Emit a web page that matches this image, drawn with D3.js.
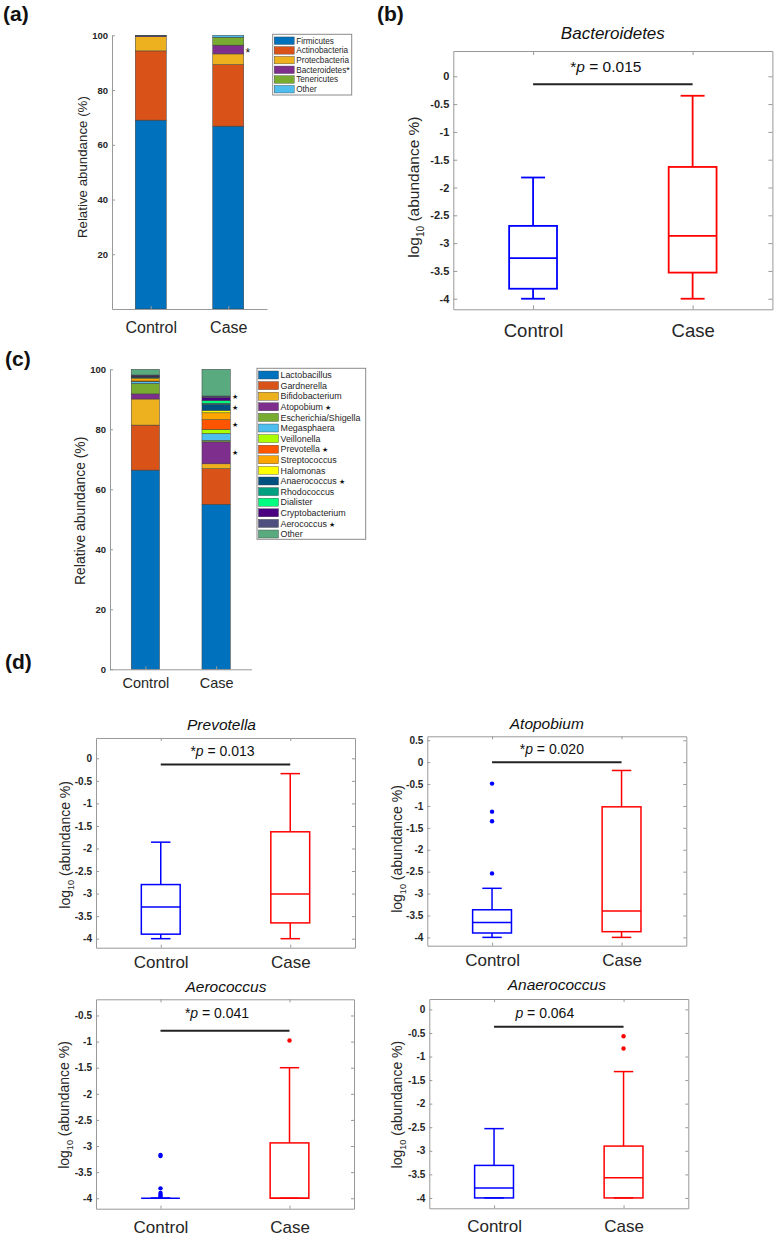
<!DOCTYPE html>
<html>
<head>
<meta charset="utf-8">
<script src="https://cdn.jsdelivr.net/npm/d3@7"></script>
<style>
  body { margin: 0; background: #fff; }
  text { font-family: "Liberation Sans", Arial, Helvetica, sans-serif; }
</style>
</head>
<body>
<svg id="fig" width="774" height="1242"></svg>
<script>
// ---- data ----
const groups = ["Control", "Case"];

const phyla = ["Firmicutes", "Actinobacteria", "Protecbacteria", "Bacteroidetes", "Tenericutes", "Other"];
const phylaControl = [69.0, 25.3, 5.2, 0.3, 0.1, 0.1];
const phylaCase = [66.8, 22.5, 3.9, 3.2, 2.9, 0.7];
const phylaStarred = ["Bacteroidetes"];
const phylaTicks = [20, 40, 60, 80, 100];

const genera = ["Lactobacillus", "Gardnerella", "Bifidobacterium", "Atopobium", "Escherichia/Shigella",
  "Megasphaera", "Veillonella", "Prevotella", "Streptococcus", "Halomonas", "Anaerococcus",
  "Rhodococcus", "Dialister", "Cryptobacterium", "Aerococcus", "Other"];
const generaControl = [66.4, 15.0, 8.7, 1.7, 3.5, 0.6, 0.1, 0.1, 0.8, 0.2, 0.3, 0.1, 0.1, 0.4, 0.1, 1.9];
const generaCase = [55.0, 11.9, 1.6, 7.3, 0.5, 2.3, 1.4, 3.2, 2.3, 0.8, 2.0, 0.4, 0.9, 1.0, 0.5, 8.9];
const generaStarred = ["Atopobium", "Prevotella", "Anaerococcus", "Aerococcus"];
const generaTicks = [0, 20, 40, 60, 80, 100];

// box stats: [lower whisker, q1, median, q3, upper whisker]
const bacteroidetesControl = [-4.0, -3.82, -3.27, -2.69, -1.82];
const bacteroidetesCase = [-4.0, -3.53, -2.87, -1.63, -0.35];
const prevotellaControl = [-4.0, -3.90, -3.30, -2.80, -1.86];
const prevotellaCase = [-4.0, -3.65, -3.01, -1.63, -0.34];
const atopobiumControl = [-4.0, -3.90, -3.66, -3.37, -2.88];
const atopobiumControlOut = [-0.49, -1.13, -1.35, -2.54];
const atopobiumCase = [-4.0, -3.87, -3.40, -1.02, -0.19];
const aerococcusControl = [-4.0, -4.0, -4.0, -4.0, -4.0];
const aerococcusControlOut = [-3.17, -3.19, -3.81, -3.90, -3.93, -3.96];
const aerococcusCase = [-4.0, -4.0, -4.0, -2.94, -1.50];
const aerococcusCaseOut = [-0.98];
const anaerococcusControl = [-4.0, -4.0, -3.79, -3.31, -2.53];
const anaerococcusCase = [-4.0, -4.0, -3.57, -2.90, -1.32];
const anaerococcusCaseOut = [-0.57, -0.83];

const logTicksFrom0 = [0, -0.5, -1, -1.5, -2, -2.5, -3, -3.5, -4];
const logTicksFrom05 = [0.5, 0, -0.5, -1, -1.5, -2, -2.5, -3, -3.5, -4];
const logTicksFromM05 = [-0.5, -1, -1.5, -2, -2.5, -3, -3.5, -4];

// ---- styles ----
const phylaColors = ["#0072bd", "#d95319", "#edb120", "#7e2f8e", "#77ac30", "#4dbeee"];
const generaColors = ["#0072bd", "#d95319", "#edb120", "#7e2f8e", "#77ac30", "#4dbeee", "#aaff00",
  "#ff5500", "#ffa500", "#ffff00", "#005080", "#00a080", "#00ff80", "#4b0082", "#4f4f7f", "#5aaa80"];
const boxColors = ["#0000ff", "#ff0000"];
const AXIS = "#999999";
const INK = "#262626";

const svg = d3.select("#fig");
svg.append("rect").attr("width", 774).attr("height", 1242).attr("fill", "#fff");

const fmt = d => String(d);

function styleAxis(sel, fs, bold) {
  sel.attr("font-family", null).attr("font-size", fs);
  sel.select(".domain").attr("stroke", AXIS);
  sel.selectAll(".tick line").attr("stroke", AXIS);
  sel.selectAll(".tick text").attr("fill", INK).attr("font-weight", bold ? "bold" : "normal");
}

function panelLabel(txt, x, y) {
  svg.append("text").attr("x", x).attr("y", y).attr("font-size", 21)
    .attr("font-weight", "bold").attr("fill", "#111").text(txt);
}

function stackedPanel(cfg) {
  const g = svg.append("g");
  const x = d3.scaleLinear().domain([0.5, 2.5]).range([cfg.left, cfg.right]);
  const y = d3.scaleLinear().domain([0, 100]).range([cfg.bottom, cfg.top]);
  const bw = x(1.4) - x(1);

  cfg.series.forEach((vals, gi) => {
    const ends = d3.cumsum(vals);
    const segs = vals.map((v, i) => ({ i, y0: ends[i] - v, y1: ends[i] }));
    g.append("g").selectAll("rect").data(segs).join("rect")
      .attr("x", x(gi + 1) - bw / 2).attr("width", bw)
      .attr("y", d => y(d.y1)).attr("height", d => y(d.y0) - y(d.y1))
      .attr("fill", d => cfg.colors[d.i])
      .attr("stroke", "#3c3c3c").attr("stroke-width", 0.5);
    if (gi === 1) {
      const marked = segs.filter(d => cfg.starred.includes(cfg.names[d.i]));
      g.append("g").selectAll("text").data(marked).join("text")
        .attr("x", x(2) + bw / 2 + cfg.starDx)
        .attr("y", d => y((d.y0 + d.y1) / 2) + cfg.starDy)
        .attr("text-anchor", "middle")
        .attr("font-size", cfg.starFs)
        .attr("fill", "#111")
        .text(cfg.starGlyph);
    }
  });

  const ya = g.append("g").attr("transform", `translate(${cfg.left},0)`)
    .call(d3.axisLeft(y).tickValues(cfg.ticks).tickSizeInner(-3).tickSizeOuter(0)
      .tickPadding(4).tickFormat(fmt));
  styleAxis(ya, cfg.tickFs, true);

  const xa = g.append("g").attr("transform", `translate(0,${cfg.bottom})`)
    .call(d3.axisBottom(x).tickValues([1, 2]).tickSizeInner(-3).tickSizeOuter(0)
      .tickPadding(cfg.catGap - 0.71 * cfg.catFs).tickFormat((d, i) => groups[i]));
  styleAxis(xa, cfg.catFs, false);

  g.append("text")
    .attr("transform", `translate(${cfg.ylabX + 0.35 * cfg.ylabFs},${(cfg.top + cfg.bottom) / 2 + cfg.ylabDy}) rotate(-90)`)
    .attr("text-anchor", "middle").attr("font-size", cfg.ylabFs).attr("fill", INK)
    .text("Relative abundance (%)");

  // legend
  const lg = g.append("g");
  const L = cfg.legend;
  lg.append("rect").attr("x", L.x).attr("y", L.y).attr("width", L.w).attr("height", L.h)
    .attr("fill", "#fff").attr("stroke", "#8a8a8a").attr("stroke-width", 1);
  const rows = lg.selectAll("g").data(cfg.names).join("g")
    .attr("transform", (d, i) => `translate(${L.x + 1.5},${L.y0 + i * L.step})`);
  rows.append("rect").attr("x", 0).attr("y", -L.sw / 2).attr("width", 20).attr("height", L.sw)
    .attr("fill", (d, i) => cfg.colors[i]).attr("stroke", "#3c3c3c").attr("stroke-width", 0.4);
  const labels = rows.append("text").attr("x", 22).attr("y", 0).attr("dy", "0.35em")
    .attr("font-size", L.fs).attr("fill", INK).text(d => d);
  labels.filter(d => cfg.starred.includes(d)).append("tspan")
    .attr("font-size", L.starFs).attr("fill", "#111").text(L.starText);
  return g;
}

function boxPanel(cfg) {
  const g = svg.append("g");
  const x = d3.scaleLinear().domain([0.5, 2.5]).range([cfg.left, cfg.right]);
  const y = d3.scaleLinear().domain(cfg.domain).range([cfg.bottom, cfg.top]);

  const yl = g.append("g").attr("transform", `translate(${cfg.left},0)`)
    .call(d3.axisLeft(y).tickValues(cfg.ticks).tickSizeInner(-cfg.tick).tickSizeOuter(0)
      .tickPadding(4).tickFormat(fmt));
  styleAxis(yl, cfg.tickFs, true);
  const yr = g.append("g").attr("transform", `translate(${cfg.right},0)`)
    .call(d3.axisRight(y).tickValues(cfg.ticks).tickSizeInner(-cfg.tick).tickSizeOuter(0)
      .tickFormat(() => ""));
  styleAxis(yr, cfg.tickFs, true);
  const xt = g.append("g").attr("transform", `translate(0,${cfg.top})`)
    .call(d3.axisTop(x).tickValues([1, 2]).tickSizeInner(-cfg.tick).tickSizeOuter(0)
      .tickFormat(() => ""));
  styleAxis(xt, cfg.catFs, false);
  const xb = g.append("g").attr("transform", `translate(0,${cfg.bottom})`)
    .call(d3.axisBottom(x).tickValues([1, 2]).tickSizeInner(-cfg.tick).tickSizeOuter(0)
      .tickPadding(cfg.catGap - 0.71 * cfg.catFs).tickFormat((d, i) => groups[i]));
  styleAxis(xb, cfg.catFs, false);

  const boxes = g.append("g").selectAll("g")
    .data(cfg.stats.map((s, i) => ({ s, i, out: cfg.outliers[i] })))
    .join("g")
    .attr("stroke", d => boxColors[d.i]).attr("fill", "none")
    .attr("stroke-width", cfg.lw);

  const bx = d => x(d.i + 1);
  const half = w => x(1 + w) - x(1);
  boxes.append("line").attr("x1", bx).attr("x2", bx)
    .attr("y1", d => y(d.s[3])).attr("y2", d => y(d.s[4]));
  boxes.append("line").attr("x1", bx).attr("x2", bx)
    .attr("y1", d => y(d.s[1])).attr("y2", d => y(d.s[0]));
  boxes.append("line").attr("x1", d => bx(d) - half(0.075)).attr("x2", d => bx(d) + half(0.075))
    .attr("y1", d => y(d.s[4])).attr("y2", d => y(d.s[4]));
  boxes.append("line").attr("x1", d => bx(d) - half(0.075)).attr("x2", d => bx(d) + half(0.075))
    .attr("y1", d => y(d.s[0])).attr("y2", d => y(d.s[0]));
  boxes.append("rect").attr("x", d => bx(d) - half(0.15)).attr("width", half(0.3))
    .attr("y", d => y(d.s[3])).attr("height", d => y(d.s[1]) - y(d.s[3]));
  boxes.append("line").attr("x1", d => bx(d) - half(0.15)).attr("x2", d => bx(d) + half(0.15))
    .attr("y1", d => y(d.s[2])).attr("y2", d => y(d.s[2]));
  boxes.selectAll("circle").data(d => d.out.map(v => ({ v, i: d.i }))).join("circle")
    .attr("cx", d => x(d.i + 1)).attr("cy", d => y(d.v)).attr("r", cfg.dotR)
    .attr("stroke", "none").attr("fill", d => boxColors[d.i]);

  // significance bar
  g.append("line").attr("x1", x(1)).attr("x2", x(2))
    .attr("y1", y(cfg.sig)).attr("y2", y(cfg.sig))
    .attr("stroke", "#222").attr("stroke-width", 2);
  const pt = g.append("text").attr("x", x(1.5) + cfg.pDx).attr("y", y(cfg.sig) - cfg.pGap)
    .attr("text-anchor", "middle").attr("font-size", cfg.pFs).attr("fill", "#111");
  if (cfg.star) pt.append("tspan").text("*");
  pt.append("tspan").attr("font-style", "italic").text("p");
  pt.append("tspan").text(" = " + cfg.p);

  g.append("text").attr("x", (cfg.left + cfg.right) / 2 + cfg.titleDx).attr("y", cfg.top - cfg.titleGap)
    .attr("text-anchor", "middle").attr("font-size", cfg.titleFs).attr("font-style", "italic")
    .attr("fill", "#111").text(cfg.title);

  const fs = cfg.ylabFs;
  const yt = g.append("text")
    .attr("transform", `translate(${cfg.ylabX + 0.35 * fs},${(cfg.top + cfg.bottom) / 2 + cfg.ylabDy}) rotate(-90)`)
    .attr("text-anchor", "middle").attr("font-size", fs).attr("fill", INK);
  yt.append("tspan").text("log");
  yt.append("tspan").attr("font-size", fs * 0.65).attr("dy", fs * 0.28).text("10");
  yt.append("tspan").attr("dy", -fs * 0.28).text(" (abundance %)");
  return g;
}

// ---- panel (a) ----
panelLabel("(a)", 3, 21);
stackedPanel({
  series: [phylaControl, phylaCase], names: phyla, colors: phylaColors,
  starred: phylaStarred, ticks: phylaTicks,
  left: 112, right: 267, top: 35.3, bottom: 309,
  tickFs: 9.5, catFs: 16, catGap: 24, ylabX: 82, ylabFs: 13.3, ylabDy: -5,
  starGlyph: "*", starFs: 12, starDx: 4, starDy: 7,
  legend: { x: 272.7, y: 34.3, w: 79, h: 60.7, y0: 40.7, step: 9.7, sw: 7.5, fs: 8.2,
            starFs: 9, starText: "*" }
});

// ---- panel (c) ----
panelLabel("(c)", 5, 366);
stackedPanel({
  series: [generaControl, generaCase], names: genera, colors: generaColors,
  starred: generaStarred, ticks: generaTicks,
  left: 110, right: 251.5, top: 369.3, bottom: 669.3,
  tickFs: 9.5, catFs: 14.5, catGap: 19, ylabX: 80, ylabFs: 13.9, ylabDy: -8.5,
  starGlyph: "★", starFs: 7, starDx: 5, starDy: 2.5,
  legend: { x: 257, y: 368.3, w: 108.7, h: 171, y0: 375, step: 10.6, sw: 8, fs: 8.9,
            starFs: 6.5, starText: " ★" }
});

// ---- panel (b) ----
panelLabel("(b)", 377, 21);
boxPanel({
  title: "Bacteroidetes", stats: [bacteroidetesControl, bacteroidetesCase], outliers: [[], []],
  sig: -0.145, p: "0.015", star: true, ticks: logTicksFrom0, domain: [-4.19, 0.455],
  left: 453.3, right: 772.4, top: 51, bottom: 309.3,
  tickFs: 11, titleFs: 17, titleGap: 12, titleDx: 0, pFs: 15.5, pGap: 12.6, pDx: -7,
  catFs: 18.5, catGap: 27.7, ylabX: 414, ylabFs: 15.5, ylabDy: 7, lw: 1.8, tick: 4, dotR: 2.4
});

// ---- panel (d) ----
panelLabel("(d)", 5, 669);
boxPanel({
  title: "Prevotella", stats: [prevotellaControl, prevotellaCase], outliers: [[], []],
  sig: -0.14, p: "0.013", star: true, ticks: logTicksFrom0, domain: [-4.2, 0.45],
  left: 96, right: 355, top: 738, bottom: 947.7,
  tickFs: 10, titleFs: 15.5, titleGap: 8, titleDx: -4, pFs: 14, pGap: 8.7, pDx: -3,
  catFs: 17, catGap: 20, ylabX: 64.7, ylabFs: 14, ylabDy: 2, lw: 1.5, tick: 3, dotR: 2.2
});
boxPanel({
  title: "Atopobium", stats: [atopobiumControl, atopobiumCase], outliers: [atopobiumControlOut, []],
  sig: 0.0, p: "0.020", star: true, ticks: logTicksFrom05, domain: [-4.19, 0.59],
  left: 427.3, right: 686.3, top: 736.3, bottom: 945.7,
  tickFs: 10, titleFs: 15.5, titleGap: 7.5, titleDx: -10, pFs: 14, pGap: 8.4, pDx: -5,
  catFs: 17, catGap: 20, ylabX: 397.5, ylabFs: 14, ylabDy: 8, lw: 1.5, tick: 3, dotR: 2.2
});
boxPanel({
  title: "Aerococcus", stats: [aerococcusControl, aerococcusCase], outliers: [aerococcusControlOut, aerococcusCaseOut],
  sig: -0.79, p: "0.041", star: true, ticks: logTicksFromM05, domain: [-4.2, -0.19],
  left: 96, right: 354, top: 999.3, bottom: 1208.7,
  tickFs: 10, titleFs: 15.5, titleGap: 7.6, titleDx: 1, pFs: 14, pGap: 12.4, pDx: -8,
  catFs: 17, catGap: 24, ylabX: 63.7, ylabFs: 14, ylabDy: 1, lw: 1.5, tick: 3, dotR: 2.2
});
boxPanel({
  title: "Anaerococcus", stats: [anaerococcusControl, anaerococcusCase], outliers: [[], anaerococcusCaseOut],
  sig: -0.37, p: "0.064", star: false, ticks: logTicksFrom0, domain: [-4.22, 0.22],
  left: 429.3, right: 688.3, top: 999, bottom: 1208.3,
  tickFs: 10, titleFs: 15.5, titleGap: 9, titleDx: -2, pFs: 14, pGap: 8.7, pDx: -14,
  catFs: 17, catGap: 24, ylabX: 397, ylabFs: 14, ylabDy: 1, lw: 1.5, tick: 3, dotR: 2.2
});
</script>
</body>
</html>
